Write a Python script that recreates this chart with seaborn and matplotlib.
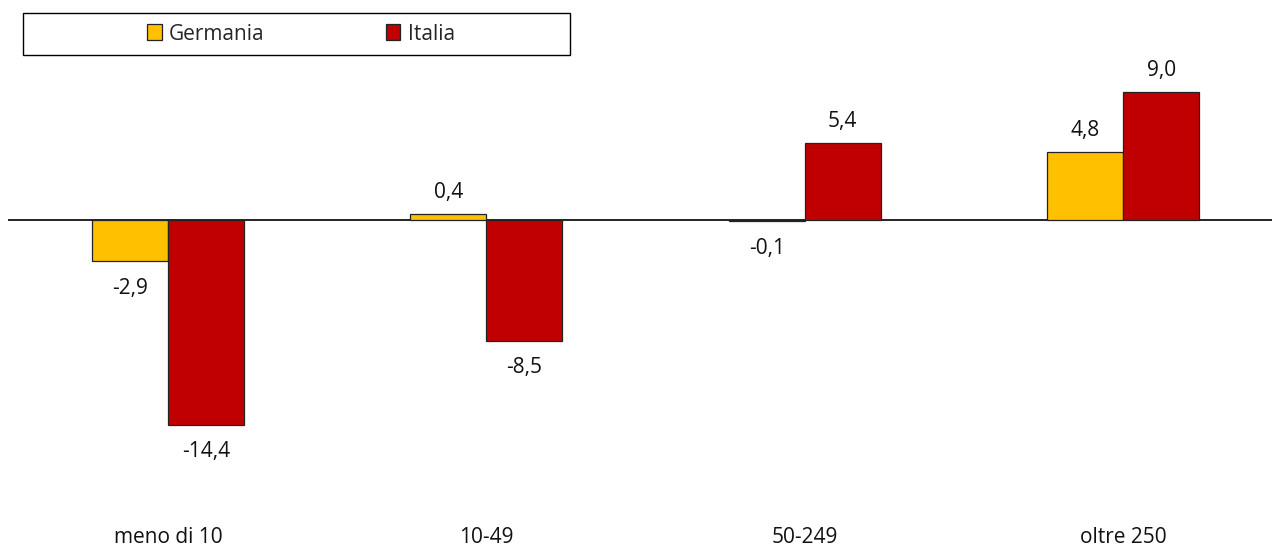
import matplotlib
matplotlib.use("Agg")
import matplotlib.pyplot as plt
from matplotlib.patches import Rectangle, Patch
import seaborn as sns
import pandas as pd

categories = ["meno di 10", "10-49", "50-249", "oltre 250"]
germania = [-2.9, 0.4, -0.1, 4.8]
italia = [-14.4, -8.5, 5.4, 9.0]
series_names = ["Germania", "Italia"]
colors = ["#FFC000", "#C00000"]

df = pd.DataFrame({
    "cat": categories * 2,
    "val": germania + italia,
    "serie": [series_names[0]] * 4 + [series_names[1]] * 4,
})

sns.set_theme(style="white")
plt.rcParams["font.family"] = ["Open Sans", "DejaVu Sans"]

fig = plt.figure(figsize=(12.74, 5.47), dpi=100)
ax = fig.add_axes([8 / 1274, 27 / 547, 1264 / 1274, 520 / 547])

sns.barplot(data=df, x="cat", y="val", hue="serie", order=categories,
            hue_order=series_names, palette=colors, saturation=1, width=0.478,
            edgecolor="#222222", linewidth=0.9, ax=ax, legend=False)

ax.set_ylim(-21.1, 15.47)
ax.set_xlim(-0.503, 3.468)
ax.axhline(0, color="black", lw=1.2, zorder=0.5)

for container in ax.containers:
    for bar in container:
        h = bar.get_height()
        x = bar.get_x() + bar.get_width() / 2
        txt = f"{h:.1f}".replace(".", ",")
        off = 15.5 if h >= 0 else -19.5
        ax.annotate(txt, (x, h), xytext=(0, off), textcoords="offset points",
                    ha="center", va="center", fontsize=15, color="#111111")

for s in ax.spines.values():
    s.set_visible(False)
ax.set_yticks([])
ax.set_xlabel("")
ax.set_ylabel("")
ax.tick_params(axis="x", length=0, pad=5, labelsize=15, labelcolor="#111111")

# legend
handles = [Patch(facecolor=c, edgecolor="#222222", linewidth=0.9) for c in colors]
leg = fig.legend(handles, series_names, loc="center",
                 bbox_to_anchor=(301 / 1274, 1 - 34 / 547), ncol=2,
                 frameon=False, fontsize=15, handlelength=0.7, handleheight=0.8,
                 handletextpad=0.35, columnspacing=5.8)
fig.add_artist(Rectangle((23 / 1274, 1 - 55 / 547), 547 / 1274, 42 / 547,
                         transform=fig.transFigure, fill=False,
                         edgecolor="black", linewidth=1.0))

fig.savefig("out.png", dpi=100)
